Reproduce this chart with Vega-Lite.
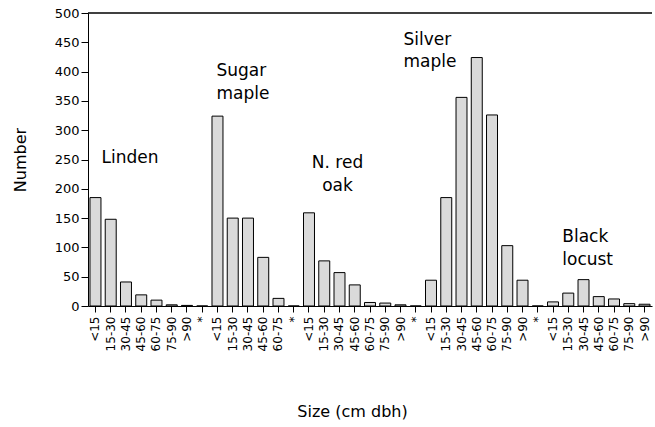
{
  "$schema": "https://vega.github.io/schema/vega-lite/v6.json",
  "width": 564,
  "height": 293,
  "autosize": {"type": "none"},
  "padding": {"left": 88, "top": 13, "right": 3, "bottom": 121},
  "background": "white",
  "config": {
    "view": {"stroke": null},
    "font": "DejaVu Sans",
    "axis": {"domainColor": "black", "tickColor": "black", "labelColor": "black", "titleColor": "black", "grid": false, "titleFontWeight": "normal", "titleFontSize": 16}
  },
  "encoding": {
    "y": {
      "field": "v", "type": "quantitative", "title": "Number",
      "scale": {"domain": [0, 500], "nice": false},
      "axis": {"values": [0, 50, 100, 150, 200, 250, 300, 350, 400, 450, 500], "labelOverlap": false, "labelFlush": false, "labelFontSize": 13, "tickSize": 7, "labelPadding": 2, "titlePadding": 26}
    }
  },
  "layer": [
    {
      "data": {"values": [
        {"cat": "Linden|<15", "v": 185}, {"cat": "Linden|15-30", "v": 148}, {"cat": "Linden|30-45", "v": 41}, {"cat": "Linden|45-60", "v": 19}, {"cat": "Linden|60-75", "v": 10}, {"cat": "Linden|75-90", "v": 2}, {"cat": "Linden|>90", "v": 1}, {"cat": "Linden|*", "v": 0},
        {"cat": "Sugar maple|<15", "v": 324}, {"cat": "Sugar maple|15-30", "v": 150}, {"cat": "Sugar maple|30-45", "v": 150}, {"cat": "Sugar maple|45-60", "v": 83}, {"cat": "Sugar maple|60-75", "v": 13}, {"cat": "Sugar maple|*", "v": 0},
        {"cat": "N. red oak|<15", "v": 159}, {"cat": "N. red oak|15-30", "v": 77}, {"cat": "N. red oak|30-45", "v": 57}, {"cat": "N. red oak|45-60", "v": 36}, {"cat": "N. red oak|60-75", "v": 6}, {"cat": "N. red oak|75-90", "v": 5}, {"cat": "N. red oak|>90", "v": 2}, {"cat": "N. red oak|*", "v": 0},
        {"cat": "Silver maple|<15", "v": 44}, {"cat": "Silver maple|15-30", "v": 185}, {"cat": "Silver maple|30-45", "v": 356}, {"cat": "Silver maple|45-60", "v": 424}, {"cat": "Silver maple|60-75", "v": 326}, {"cat": "Silver maple|75-90", "v": 103}, {"cat": "Silver maple|>90", "v": 44}, {"cat": "Silver maple|*", "v": 0},
        {"cat": "Black locust|<15", "v": 7}, {"cat": "Black locust|15-30", "v": 22}, {"cat": "Black locust|30-45", "v": 45}, {"cat": "Black locust|45-60", "v": 16}, {"cat": "Black locust|60-75", "v": 12}, {"cat": "Black locust|75-90", "v": 4}, {"cat": "Black locust|>90", "v": 3}
      ]},
      "mark": {"type": "bar", "fill": "#dadada", "stroke": "black", "strokeWidth": 1},
      "encoding": {
        "x": {
          "field": "cat", "type": "nominal", "sort": null, "title": "Size (cm dbh)",
          "scale": {"paddingInner": 0.28, "paddingOuter": 0.13},
          "axis": {"labelExpr": "split(datum.label,'|')[1]", "labelAngle": 270, "labelAlign": "right", "labelBaseline": "middle", "labelPadding": 4, "labelFontSize": 12, "labelOverlap": false, "tickSize": 6, "titleX": 264, "titleY": 97, "titleBaseline": "top", "titleAnchor": "middle"}
        }
      }
    },
    {
      "data": {"values": [{"v": 500}]},
      "mark": {"type": "rule", "color": "black", "strokeWidth": 1.5},
      "encoding": {}
    },
    {
      "data": {"values": [{"cat": "Linden|<15", "v": 244, "t": "Linden"}]},
      "mark": {"type": "text", "align": "left", "baseline": "alphabetic", "fontSize": 17, "dx": 6, "color": "black"},
      "encoding": {"x": {"field": "cat", "type": "nominal", "sort": null, "title": "Size (cm dbh)"}, "text": {"field": "t"}}
    },
    {
      "data": {"values": [{"cat": "Sugar maple|<15", "v": 392, "t": "Sugar\nmaple"}]},
      "mark": {"type": "text", "align": "left", "baseline": "alphabetic", "fontSize": 17, "dx": -1, "lineBreak": "\n", "lineHeight": 23, "color": "black"},
      "encoding": {"x": {"field": "cat", "type": "nominal", "sort": null, "title": "Size (cm dbh)"}, "text": {"field": "t"}}
    },
    {
      "data": {"values": [{"cat": "N. red oak|30-45", "v": 235, "t": "N. red\noak"}]},
      "mark": {"type": "text", "align": "center", "baseline": "alphabetic", "fontSize": 17, "dx": -2, "lineBreak": "\n", "lineHeight": 23, "color": "black"},
      "encoding": {"x": {"field": "cat", "type": "nominal", "sort": null, "title": "Size (cm dbh)"}, "text": {"field": "t"}}
    },
    {
      "data": {"values": [{"cat": "N. red oak|>90", "v": 445, "t": "Silver\nmaple"}]},
      "mark": {"type": "text", "align": "left", "baseline": "alphabetic", "fontSize": 17, "dx": 3, "lineBreak": "\n", "lineHeight": 22, "color": "black"},
      "encoding": {"x": {"field": "cat", "type": "nominal", "sort": null, "title": "Size (cm dbh)"}, "text": {"field": "t"}}
    },
    {
      "data": {"values": [{"cat": "Black locust|15-30", "v": 109, "t": "Black\nlocust"}]},
      "mark": {"type": "text", "align": "left", "baseline": "alphabetic", "fontSize": 17, "dx": -6, "lineBreak": "\n", "lineHeight": 23, "color": "black"},
      "encoding": {"x": {"field": "cat", "type": "nominal", "sort": null, "title": "Size (cm dbh)"}, "text": {"field": "t"}}
    }
  ]
}
